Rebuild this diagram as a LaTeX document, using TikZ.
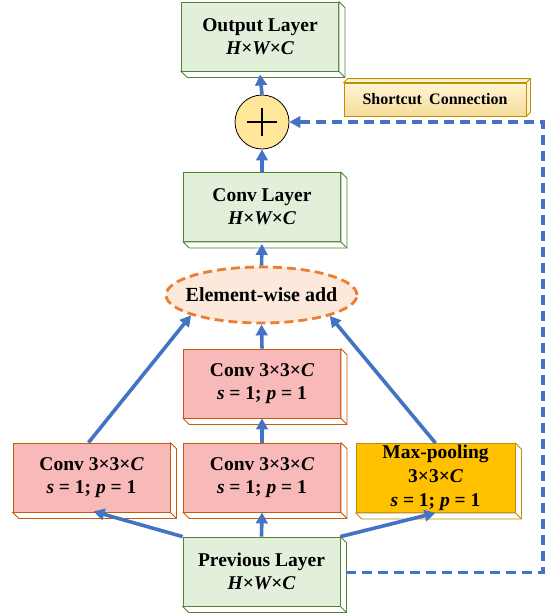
\documentclass[tikz,border=0pt]{standalone}
\usepackage{fontspec}
\setmainfont{Liberation Serif}
\usetikzlibrary{arrows.meta,calc,shapes.geometric}
\definecolor{gfill}{HTML}{E2EFDA}
\definecolor{gline}{HTML}{548235}
\definecolor{pfill}{HTML}{F8B9B9}
\definecolor{pline}{HTML}{C55A11}
\definecolor{yfill}{HTML}{FFC000}
\definecolor{yline}{HTML}{BF9000}
\definecolor{efill}{HTML}{FCE9DC}
\definecolor{eline}{HTML}{ED7D31}
\definecolor{cfill}{HTML}{FFE699}
\definecolor{ablue}{HTML}{4472C4}
\definecolor{sctop}{HTML}{FFF5D6}
\definecolor{scbot}{HTML}{F4DC98}
\newcommand\bi[1]{{\itshape #1}}
\newcommand\mkdepth[3][6]{%
  \draw[#3, line width=0.8pt, fill=white, line join=miter]
    (#2.north east) -- ++(#1,#1) -- ($(#2.south east)+(#1,#1)$) -- ($(#2.south west)+(#1,#1)$)
    -- (#2.south west) -- (#2.south east) -- cycle;
  \draw[#3, line width=0.8pt] (#2.south east) -- ++(#1,#1);
}
\begin{document}
\begin{tikzpicture}[x=1pt,y=-1pt,
  box/.style={draw, line width=0.8pt, inner sep=0pt, minimum width=157pt, minimum height=69pt,
    align=center, font=\fontsize{19.5}{23}\selectfont\bfseries},
  greenbox/.style={box, fill=gfill, draw=gline},
  pinkbox/.style={box, fill=pfill, draw=pline},
  yellowbox/.style={box, fill=yfill, draw=yline, minimum width=159pt, font=\fontsize{19.5}{24}\selectfont\bfseries},
  arr/.style={draw=ablue, line width=3.6pt, -{Triangle[length=11pt,width=11.5pt]}},
  dasharr/.style={draw=ablue, line width=3.2pt, dash pattern=on 10pt off 6pt, -{Triangle[length=11pt,width=11.5pt]}},
]
\useasboundingbox (0,0) rectangle (551,616);

% boxes
\node[greenbox] (out) at (260,36.5) {Output Layer\\\bi{H}×\bi{W}×\bi{C}};
\mkdepth{out}{gline}
\node[greenbox] (conv) at (262,207) {Conv Layer\\\bi{H}×\bi{W}×\bi{C}};
\mkdepth{conv}{gline}
\node[pinkbox] (cm2) at (262,383.5) {Conv 3×3×\bi{C}\\\bi{s} = 1; \bi{p} = 1};
\mkdepth{cm2}{pline}
\node[pinkbox] (cl) at (91.5,477.5) {Conv 3×3×\bi{C}\\\bi{s} = 1; \bi{p} = 1};
\mkdepth{cl}{pline}
\node[pinkbox] (cm1) at (262,477.5) {Conv 3×3×\bi{C}\\\bi{s} = 1; \bi{p} = 1};
\mkdepth{cm1}{pline}
\node[yellowbox] (mp) at (435.5,478) {Max-pooling\\3×3×\bi{C}\\\bi{s} = 1; \bi{p} = 1};
\mkdepth{mp}{yline}
\node[greenbox] (prev) at (261.5,571.5) {Previous Layer\\\bi{H}×\bi{W}×\bi{C}};
\mkdepth{prev}{gline}

% shortcut label box
\node[draw=yline, line width=0.8pt, top color=sctop, bottom color=scbot, minimum width=182pt, minimum height=33pt,
  inner sep=0pt, font=\fontsize{16}{18}\selectfont\bfseries] (sc) at (435,99.5) {Shortcut\hspace{0.45em}Connection};
\draw[yline, line width=0.8pt, fill=sctop, line join=miter]
  (sc.north west) -- ++(4,-4) -- ($(sc.north east)+(4,-4)$) -- ($(sc.south east)+(4,-4)$)
  -- (sc.south east) -- (sc.north east) -- cycle;
\draw[yline, line width=0.8pt] (sc.north east) -- ++(4,-4);

% element-wise add
\node[ellipse, draw=eline, fill=efill, line width=2.8pt, dash pattern=on 9pt off 5pt,
  minimum width=191pt, minimum height=56pt, inner sep=0pt] (ell) at (261.5,295) {};
\node[font=\fontsize{20}{24}\selectfont\bfseries, inner sep=0pt] (elltxt) at (ell.center) {Element-wise add};

% sum circle
\node[circle, draw, fill=cfill, line width=0.8pt, minimum size=54pt, inner sep=0pt] (sum) at (262,122) {};
\draw[line width=2.8pt] ($(sum.center)+(-15,0)$) -- ($(sum.center)+(15,0)$);
\draw[line width=2.8pt] ($(sum.center)+(0,-14)$) -- ($(sum.center)+(0,14)$);

% arrows
\draw[arr] (prev.north west) -- ($(cl.south)+(2,-1)$);
\draw[arr] (prev.north) -- (cm1.south);
\draw[arr] (prev.north east) -- (mp.south);
\draw[arr] (cm1.north) -- (cm2.south);
\draw[arr] ($(cl.north)+(-3,0)$) -- (ell.196);
\draw[arr] (cm2.north) -- (ell.south);
\draw[arr] (mp.north) -- (ell.343);
\draw[arr] (ell.north) -- ($(conv.south)+(0,2)$);
\draw[arr] (conv.north) -- (sum.south);
\draw[arr] (sum.north) -- ($(out.south)+(0,3)$);

% shortcut dashed connection
\coordinate (s0) at ($(prev.east)+(6,1)$);
\coordinate (c1) at (543,572.5);
\coordinate (c2) at (543,122);
\draw[dasharr] (s0) -- (c1) -- (c2) -- (sum.east);
\end{tikzpicture}
\end{document}
